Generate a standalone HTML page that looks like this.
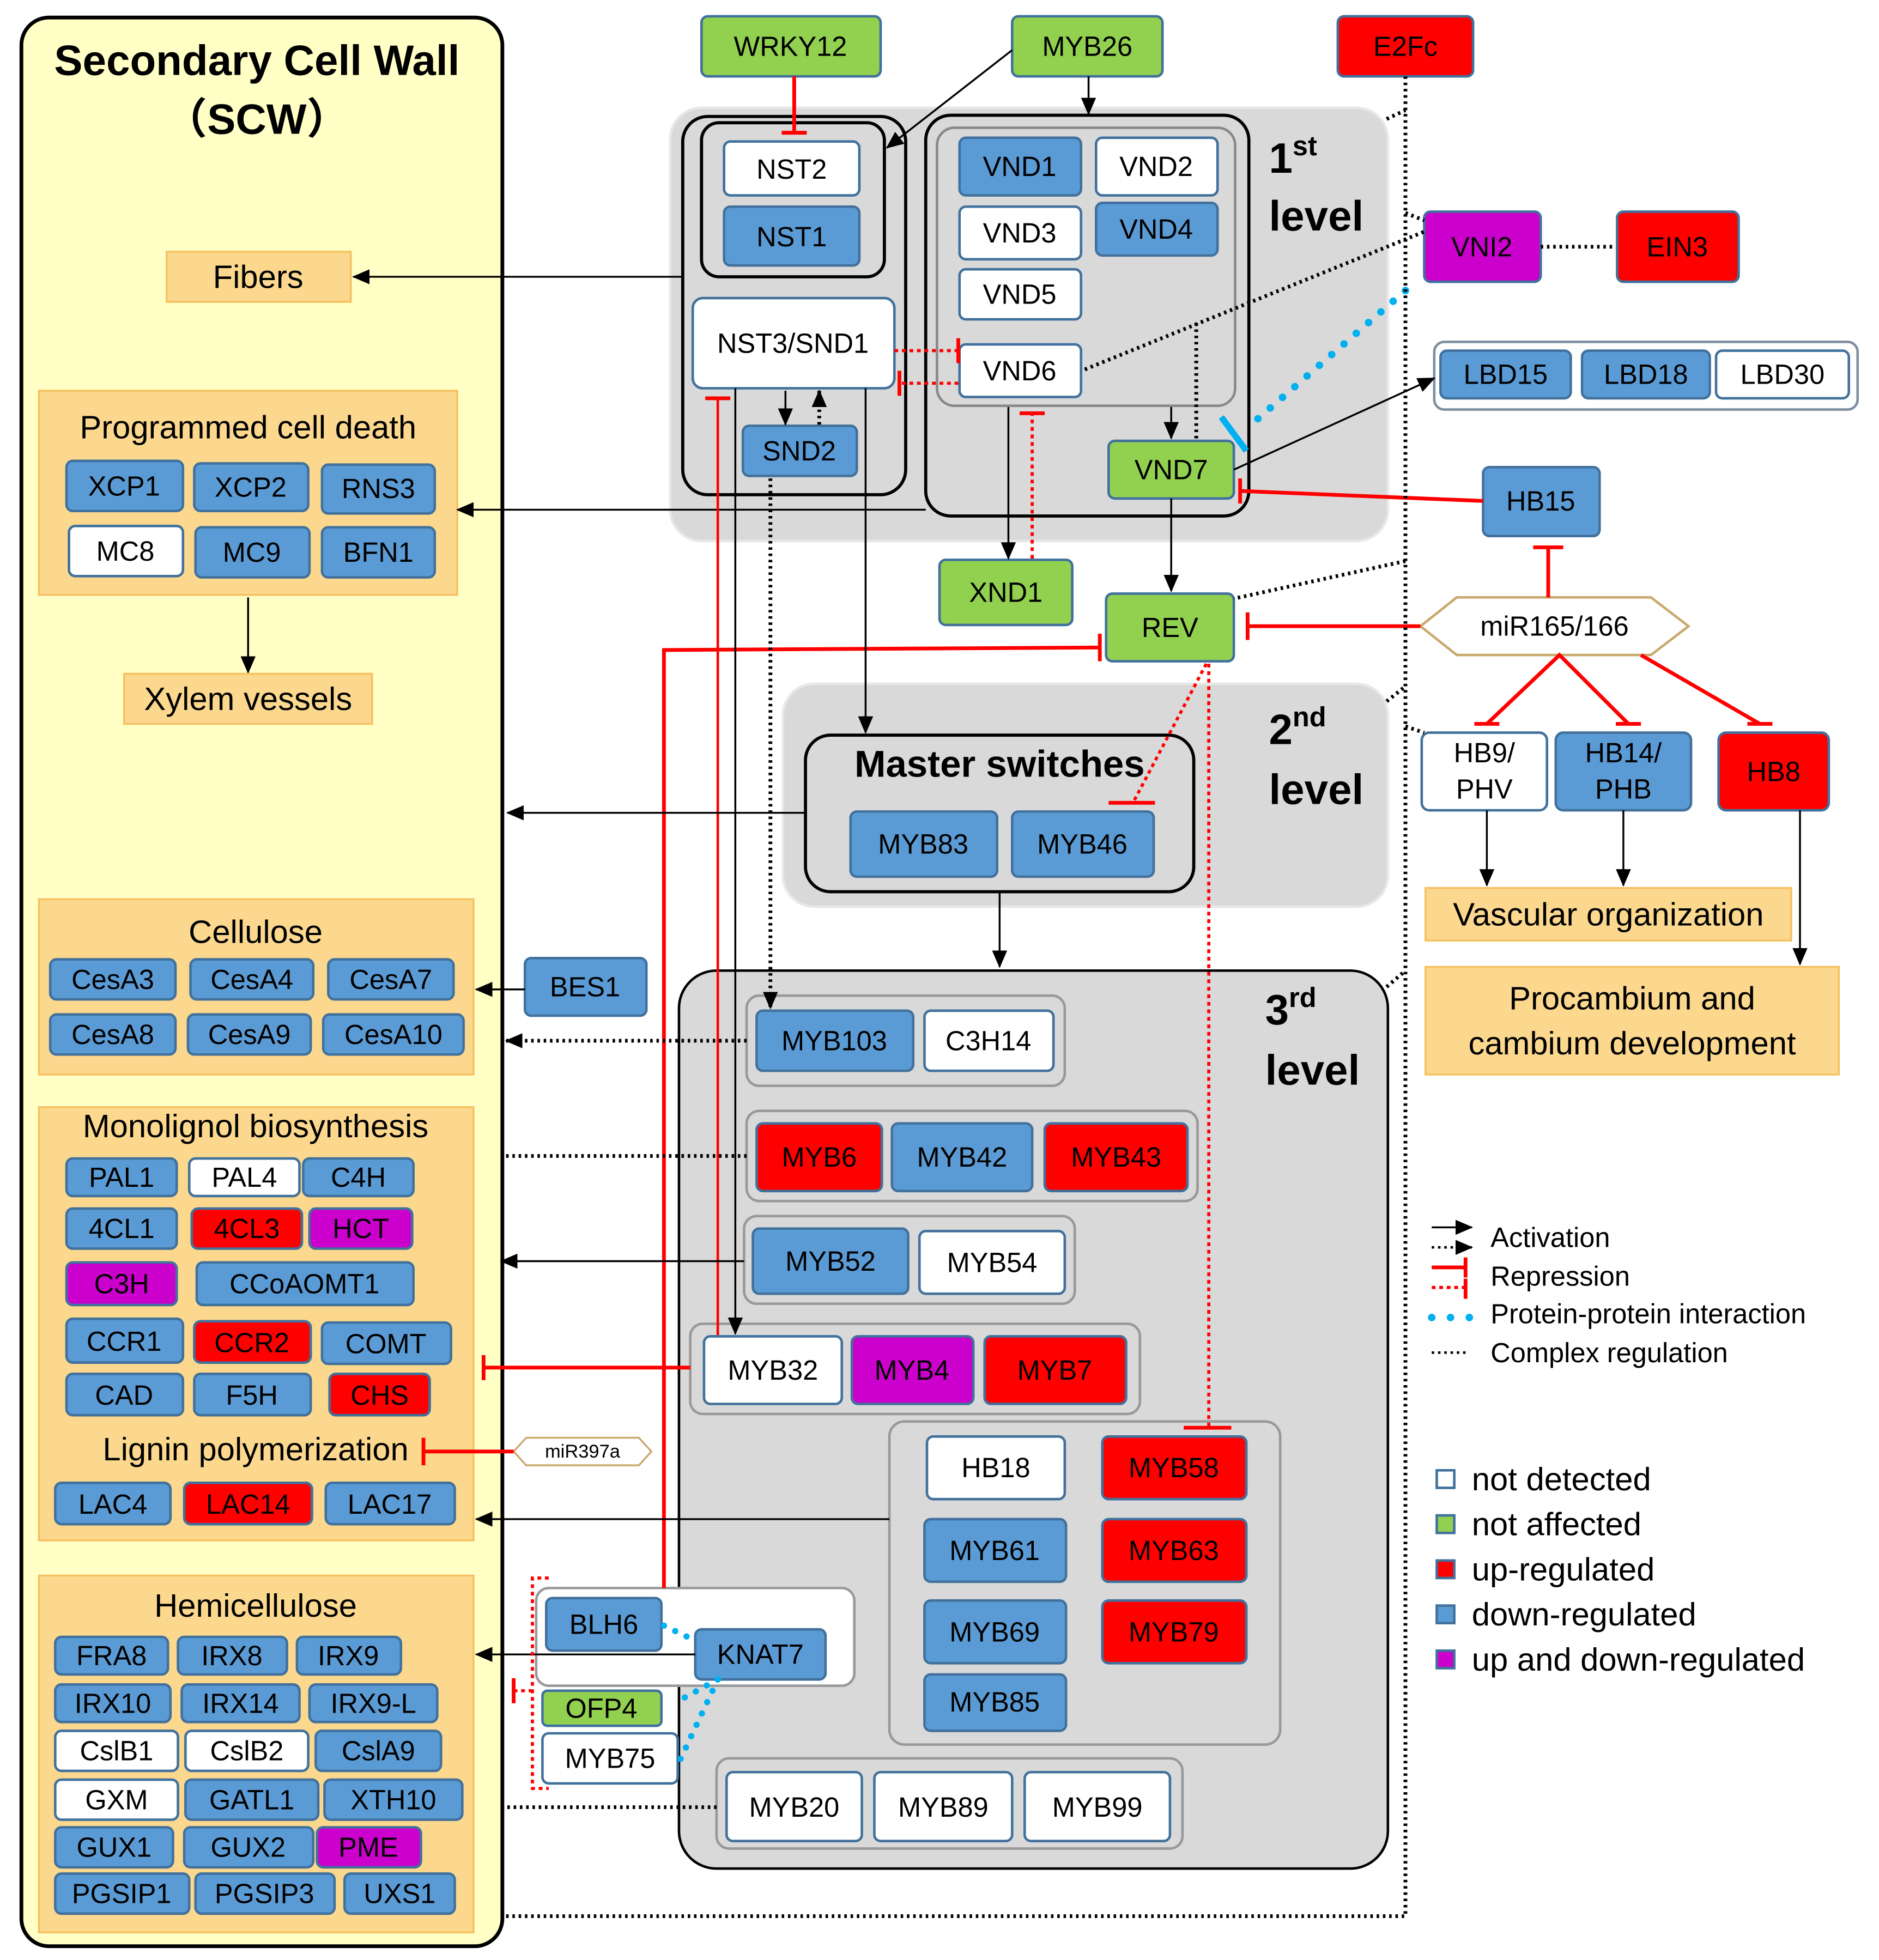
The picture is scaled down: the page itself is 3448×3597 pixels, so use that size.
<!DOCTYPE html>
<html><head><meta charset="utf-8"><style>
html,body{margin:0;padding:0;background:#fff}
svg{display:block}
text{font-family:"Liberation Sans","Noto Sans CJK SC",sans-serif}
.b{fill:#5B9BD5;stroke:#41719C;stroke-width:2}
.w{fill:#fff;stroke:#41719C;stroke-width:2}
.g{fill:#92D050;stroke:#41719C;stroke-width:2}
.r{fill:#FF0000;stroke:#41719C;stroke-width:2}
.p{fill:#CC00CC;stroke:#41719C;stroke-width:2}
.o{fill:#FBD88E;stroke:#F5C060;stroke-width:1.5}
.t{font-size:22px;text-anchor:middle;dominant-baseline:central;fill:#000}
.h{font-size:26px;text-anchor:middle;dominant-baseline:central;fill:#000}
.ln{stroke:#000;stroke-width:1.5;fill:none}
.dt{stroke:#000;stroke-width:3;stroke-dasharray:2 3;fill:none}
.rl{stroke:#FF0000;stroke-width:3;fill:none}
.rd{stroke:#FF0000;stroke-width:2.5;stroke-dasharray:3 3;fill:none}
.bd{stroke:#00B0F0;stroke-width:6;stroke-dasharray:0 13;stroke-linecap:round;fill:none}
.lv{font-size:34px;font-weight:bold;fill:#000}
</style></head><body>
<svg width="3448" height="3597" viewBox="0 0 1500 1565" xmlns="http://www.w3.org/2000/svg">
<defs>
<marker id="a" markerUnits="userSpaceOnUse" markerWidth="14" markerHeight="12" refX="13" refY="6" orient="auto"><path d="M0,0 L14,6 L0,12 z" fill="#000"/></marker>
</defs>
<!-- left panel -->
<rect x="17" y="14" width="384" height="1540" rx="22" fill="#FFFFC6" stroke="#000" stroke-width="3"/>
<text x="205" y="48" class="h" style="font-size:34px;font-weight:bold">Secondary Cell Wall</text>
<text x="205" y="95" class="h" style="font-size:34px;font-weight:bold">（SCW）</text>
<rect x="133" y="201" width="147" height="40" class="o"/><text x="206" y="221" class="h">Fibers</text>
<rect x="31" y="312" width="334" height="163" class="o"/><text x="198" y="341" class="h">Programmed  cell death</text>
<rect x="53" y="368" width="93" height="40" rx="5" class="b"/><text x="99" y="388" class="t">XCP1</text>
<rect x="155" y="370" width="91" height="38" rx="5" class="b"/><text x="200" y="389" class="t">XCP2</text>
<rect x="257" y="371" width="90" height="39" rx="5" class="b"/><text x="302" y="390" class="t">RNS3</text>
<rect x="55" y="420" width="91" height="40" rx="5" class="w"/><text x="100" y="440" class="t">MC8</text>
<rect x="156" y="421" width="91" height="40" rx="5" class="b"/><text x="201" y="441" class="t">MC9</text>
<rect x="257" y="421" width="90" height="40" rx="5" class="b"/><text x="302" y="441" class="t">BFN1</text>
<line x1="198" y1="477" x2="198" y2="537" class="ln" marker-end="url(#a)"/>
<rect x="99" y="538" width="198" height="40" class="o"/><text x="198" y="558" class="h">Xylem vessels</text>

<rect x="31" y="718" width="347" height="140" class="o"/><text x="204" y="744" class="h">Cellulose</text>
<rect x="40" y="766" width="100" height="32" rx="5" class="b"/><text x="90" y="782" class="t">CesA3</text>
<rect x="152" y="766" width="98" height="32" rx="5" class="b"/><text x="201" y="782" class="t">CesA4</text>
<rect x="262" y="766" width="100" height="32" rx="5" class="b"/><text x="312" y="782" class="t">CesA7</text>
<rect x="40" y="810" width="100" height="32" rx="5" class="b"/><text x="90" y="826" class="t">CesA8</text>
<rect x="150" y="810" width="98" height="32" rx="5" class="b"/><text x="199" y="826" class="t">CesA9</text>
<rect x="258" y="810" width="112" height="32" rx="5" class="b"/><text x="314" y="826" class="t">CesA10</text>

<rect x="31" y="884" width="347" height="346" class="o"/><text x="204" y="899" class="h">Monolignol biosynthesis</text>
<rect x="53" y="925" width="88" height="30" rx="5" class="b"/><text x="97" y="940" class="t">PAL1</text>
<rect x="151" y="925" width="88" height="30" rx="5" class="w"/><text x="195" y="940" class="t">PAL4</text>
<rect x="242" y="925" width="88" height="30" rx="5" class="b"/><text x="286" y="940" class="t">C4H</text>
<rect x="53" y="965" width="88" height="32" rx="5" class="b"/><text x="97" y="981" class="t">4CL1</text>
<rect x="153" y="965" width="88" height="32" rx="5" class="r"/><text x="197" y="981" class="t">4CL3</text>
<rect x="247" y="965" width="82" height="32" rx="5" class="p"/><text x="288" y="981" class="t">HCT</text>
<rect x="53" y="1008" width="88" height="34" rx="5" class="p"/><text x="97" y="1025" class="t">C3H</text>
<rect x="157" y="1008" width="173" height="34" rx="5" class="b"/><text x="243" y="1025" class="t">CCoAOMT1</text>
<rect x="53" y="1053" width="93" height="35" rx="5" class="b"/><text x="99" y="1071" class="t">CCR1</text>
<rect x="155" y="1055" width="93" height="33" rx="5" class="r"/><text x="201" y="1072" class="t">CCR2</text>
<rect x="257" y="1056" width="103" height="33" rx="5" class="b"/><text x="308" y="1073" class="t">COMT</text>
<rect x="53" y="1097" width="93" height="33" rx="5" class="b"/><text x="99" y="1114" class="t">CAD</text>
<rect x="155" y="1097" width="93" height="33" rx="5" class="b"/><text x="201" y="1114" class="t">F5H</text>
<rect x="263" y="1097" width="80" height="33" rx="5" class="r"/><text x="303" y="1114" class="t">CHS</text>
<text x="204" y="1157" class="h">Lignin polymerization</text>
<rect x="44" y="1184" width="92" height="33" rx="5" class="b"/><text x="90" y="1201" class="t">LAC4</text>
<rect x="147" y="1184" width="102" height="33" rx="5" class="r"/><text x="198" y="1201" class="t">LAC14</text>
<rect x="260" y="1184" width="103" height="33" rx="5" class="b"/><text x="311" y="1201" class="t">LAC17</text>

<rect x="31" y="1258" width="347" height="285" class="o"/><text x="204" y="1282" class="h">Hemicellulose</text>
<rect x="44" y="1307" width="90" height="30" rx="5" class="b"/><text x="89" y="1322" class="t">FRA8</text>
<rect x="142" y="1307" width="87" height="30" rx="5" class="b"/><text x="185" y="1322" class="t">IRX8</text>
<rect x="237" y="1307" width="83" height="30" rx="5" class="b"/><text x="278" y="1322" class="t">IRX9</text>
<rect x="44" y="1345" width="92" height="30" rx="5" class="b"/><text x="90" y="1360" class="t">IRX10</text>
<rect x="145" y="1345" width="94" height="30" rx="5" class="b"/><text x="192" y="1360" class="t">IRX14</text>
<rect x="247" y="1345" width="102" height="30" rx="5" class="b"/><text x="298" y="1360" class="t">IRX9-L</text>
<rect x="44" y="1382" width="98" height="32" rx="5" class="w"/><text x="93" y="1398" class="t">CslB1</text>
<rect x="148" y="1382" width="98" height="32" rx="5" class="w"/><text x="197" y="1398" class="t">CslB2</text>
<rect x="252" y="1382" width="100" height="32" rx="5" class="b"/><text x="302" y="1398" class="t">CslA9</text>
<rect x="44" y="1421" width="98" height="32" rx="5" class="w"/><text x="93" y="1437" class="t">GXM</text>
<rect x="148" y="1421" width="106" height="32" rx="5" class="b"/><text x="201" y="1437" class="t">GATL1</text>
<rect x="259" y="1421" width="110" height="32" rx="5" class="b"/><text x="314" y="1437" class="t">XTH10</text>
<rect x="44" y="1459" width="94" height="32" rx="5" class="b"/><text x="91" y="1475" class="t">GUX1</text>
<rect x="147" y="1459" width="103" height="32" rx="5" class="b"/><text x="198" y="1475" class="t">GUX2</text>
<rect x="253" y="1459" width="83" height="32" rx="5" class="p"/><text x="294" y="1475" class="t">PME</text>
<rect x="44" y="1496" width="107" height="32" rx="5" class="b"/><text x="97" y="1512" class="t">PGSIP1</text>
<rect x="156" y="1496" width="111" height="32" rx="5" class="b"/><text x="211" y="1512" class="t">PGSIP3</text>
<rect x="275" y="1496" width="88" height="32" rx="5" class="b"/><text x="319" y="1512" class="t">UXS1</text>

<!-- grey levels -->
<rect x="535" y="86" width="573" height="346" rx="25" fill="#D9D9D9" stroke="#E8E8E8" stroke-width="2"/>
<rect x="625" y="546" width="483" height="178" rx="25" fill="#D9D9D9" stroke="#E8E8E8" stroke-width="2"/>
<rect x="542" y="775" width="566" height="717" rx="30" fill="#D9D9D9" stroke="#000" stroke-width="2"/>
<text x="1013" y="138" class="lv">1<tspan font-size="22" dy="-14">st</tspan></text>
<text x="1013" y="184" class="lv">level</text>
<text x="1013" y="594" class="lv">2<tspan font-size="22" dy="-14">nd</tspan></text>
<text x="1013" y="642" class="lv">level</text>
<text x="1010" y="818" class="lv">3<tspan font-size="22" dy="-14">rd</tspan></text>
<text x="1010" y="866" class="lv">level</text>

<!-- top -->
<rect x="560" y="13" width="143" height="48" rx="5" class="g"/><text x="631" y="37" class="t">WRKY12</text>
<rect x="808" y="13" width="120" height="48" rx="5" class="g"/><text x="868" y="37" class="t">MYB26</text>
<rect x="1068" y="13" width="108" height="48" rx="5" class="r"/><text x="1122" y="37" class="t">E2Fc</text>

<rect x="545" y="93" width="178" height="302" rx="20" fill="none" stroke="#000" stroke-width="2.5"/>
<rect x="560" y="98" width="146" height="123" rx="14" fill="none" stroke="#000" stroke-width="2.5"/>
<rect x="578" y="113" width="108" height="43" rx="5" class="w"/><text x="632" y="135" class="t">NST2</text>
<rect x="578" y="165" width="108" height="47" rx="5" class="b"/><text x="632" y="189" class="t">NST1</text>
<rect x="553" y="238" width="161" height="72" rx="8" class="w"/><text x="633" y="274" class="t">NST3/SND1</text>
<rect x="593" y="340" width="91" height="40" rx="5" class="b"/><text x="638" y="360" class="t">SND2</text>

<rect x="739" y="92" width="258" height="320" rx="20" fill="none" stroke="#000" stroke-width="2.5"/>
<rect x="748" y="102" width="238" height="222" rx="14" fill="none" stroke="#888" stroke-width="2"/>
<rect x="766" y="110" width="97" height="46" rx="5" class="b"/><text x="814" y="133" class="t">VND1</text>
<rect x="875" y="110" width="97" height="46" rx="5" class="w"/><text x="923" y="133" class="t">VND2</text>
<rect x="766" y="165" width="97" height="42" rx="5" class="w"/><text x="814" y="186" class="t">VND3</text>
<rect x="875" y="162" width="97" height="42" rx="5" class="b"/><text x="923" y="183" class="t">VND4</text>
<rect x="766" y="215" width="97" height="40" rx="5" class="w"/><text x="814" y="235" class="t">VND5</text>
<rect x="766" y="275" width="97" height="42" rx="5" class="w"/><text x="814" y="296" class="t">VND6</text>
<rect x="885" y="352" width="100" height="46" rx="5" class="g"/><text x="935" y="375" class="t">VND7</text>

<rect x="750" y="447" width="106" height="52" rx="5" class="g"/><text x="803" y="473" class="t">XND1</text>
<rect x="883" y="474" width="102" height="54" rx="5" class="g"/><text x="934" y="501" class="t">REV</text>
<rect x="1137" y="169" width="93" height="56" rx="5" class="p"/><text x="1183" y="197" class="t">VNI2</text>
<rect x="1291" y="169" width="97" height="56" rx="5" class="r"/><text x="1339" y="197" class="t">EIN3</text>
<rect x="1145" y="273" width="338" height="54" rx="8" fill="#fff" stroke="#7F8FA0" stroke-width="2"/>
<rect x="1150" y="280" width="104" height="38" rx="5" class="b"/><text x="1202" y="299" class="t">LBD15</text>
<rect x="1263" y="280" width="102" height="38" rx="5" class="b"/><text x="1314" y="299" class="t">LBD18</text>
<rect x="1370" y="280" width="106" height="38" rx="5" class="w"/><text x="1423" y="299" class="t">LBD30</text>
<rect x="1184" y="373" width="93" height="55" rx="5" class="b"/><text x="1230" y="400" class="t">HB15</text>
<polygon points="1134,500 1163,477 1318,477 1348,500 1318,523 1163,523" fill="#fff" stroke="#C9A96E" stroke-width="2"/>
<text x="1241" y="500" class="t">miR165/166</text>
<rect x="1135" y="585" width="100" height="62" rx="6" class="w"/><text x="1185" y="601" class="t">HB9/</text><text x="1185" y="630" class="t">PHV</text>
<rect x="1242" y="585" width="108" height="62" rx="6" class="b"/><text x="1296" y="601" class="t">HB14/</text><text x="1296" y="630" class="t">PHB</text>
<rect x="1372" y="585" width="88" height="62" rx="6" class="r"/><text x="1416" y="616" class="t">HB8</text>
<rect x="1138" y="709" width="292" height="42" class="o"/><text x="1284" y="730" class="h">Vascular organization</text>
<rect x="1138" y="772" width="330" height="86" class="o"/><text x="1303" y="797" class="h">Procambium and</text><text x="1303" y="833" class="h">cambium development</text>

<!-- 2nd -->
<rect x="643" y="587" width="310" height="125" rx="20" fill="none" stroke="#000" stroke-width="2.5"/>
<text x="798" y="610" class="h" style="font-size:30px;font-weight:bold">Master switches</text>
<rect x="679" y="648" width="117" height="52" rx="5" class="b"/><text x="737" y="674" class="t">MYB83</text>
<rect x="808" y="648" width="113" height="52" rx="5" class="b"/><text x="864" y="674" class="t">MYB46</text>

<!-- 3rd -->
<rect x="596" y="795" width="254" height="72" rx="10" fill="none" stroke="#999" stroke-width="2"/>
<rect x="604" y="807" width="125" height="48" rx="5" class="b"/><text x="666" y="831" class="t">MYB103</text>
<rect x="738" y="807" width="103" height="48" rx="5" class="w"/><text x="789" y="831" class="t">C3H14</text>
<rect x="596" y="887" width="360" height="72" rx="10" fill="none" stroke="#999" stroke-width="2"/>
<rect x="604" y="897" width="100" height="54" rx="5" class="r"/><text x="654" y="924" class="t">MYB6</text>
<rect x="712" y="897" width="112" height="54" rx="5" class="b"/><text x="768" y="924" class="t">MYB42</text>
<rect x="834" y="897" width="114" height="54" rx="5" class="r"/><text x="891" y="924" class="t">MYB43</text>
<rect x="594" y="971" width="264" height="70" rx="10" fill="none" stroke="#999" stroke-width="2"/>
<rect x="601" y="981" width="124" height="52" rx="5" class="b"/><text x="663" y="1007" class="t">MYB52</text>
<rect x="734" y="983" width="116" height="50" rx="5" class="w"/><text x="792" y="1008" class="t">MYB54</text>
<rect x="551" y="1057" width="359" height="72" rx="10" fill="none" stroke="#999" stroke-width="2"/>
<rect x="562" y="1067" width="110" height="54" rx="5" class="w"/><text x="617" y="1094" class="t">MYB32</text>
<rect x="680" y="1067" width="97" height="54" rx="5" class="p"/><text x="728" y="1094" class="t">MYB4</text>
<rect x="786" y="1067" width="113" height="54" rx="5" class="r"/><text x="842" y="1094" class="t">MYB7</text>
<rect x="710" y="1135" width="312" height="258" rx="12" fill="none" stroke="#999" stroke-width="2"/>
<rect x="740" y="1147" width="110" height="50" rx="5" class="w"/><text x="795" y="1172" class="t">HB18</text>
<rect x="880" y="1147" width="115" height="50" rx="5" class="r"/><text x="937" y="1172" class="t">MYB58</text>
<rect x="738" y="1213" width="113" height="50" rx="5" class="b"/><text x="794" y="1238" class="t">MYB61</text>
<rect x="880" y="1213" width="115" height="50" rx="5" class="r"/><text x="937" y="1238" class="t">MYB63</text>
<rect x="738" y="1278" width="113" height="50" rx="5" class="b"/><text x="794" y="1303" class="t">MYB69</text>
<rect x="880" y="1278" width="115" height="50" rx="5" class="r"/><text x="937" y="1303" class="t">MYB79</text>
<rect x="738" y="1337" width="113" height="45" rx="5" class="b"/><text x="794" y="1359" class="t">MYB85</text>
<rect x="572" y="1404" width="372" height="72" rx="10" fill="none" stroke="#999" stroke-width="2"/>
<rect x="580" y="1415" width="108" height="55" rx="5" class="w"/><text x="634" y="1443" class="t">MYB20</text>
<rect x="698" y="1415" width="110" height="55" rx="5" class="w"/><text x="753" y="1443" class="t">MYB89</text>
<rect x="818" y="1415" width="116" height="55" rx="5" class="w"/><text x="876" y="1443" class="t">MYB99</text>

<rect x="428" y="1268" width="254" height="78" rx="10" fill="#fff" stroke="#999" stroke-width="2"/>
<rect x="436" y="1276" width="92" height="42" rx="5" class="b"/><text x="482" y="1297" class="t">BLH6</text>
<rect x="555" y="1301" width="104" height="40" rx="5" class="b"/><text x="607" y="1321" class="t">KNAT7</text>
<rect x="433" y="1350" width="95" height="28" rx="4" class="g"/><text x="480" y="1364" class="t">OFP4</text>
<rect x="433" y="1384" width="108" height="40" rx="5" class="w"/><text x="487" y="1404" class="t">MYB75</text>
<rect x="419" y="765" width="97" height="46" rx="5" class="b"/><text x="467" y="788" class="t">BES1</text>
<polygon points="410,1159 420,1148 510,1148 520,1159 510,1170 420,1170" fill="#fff" stroke="#C9A96E" stroke-width="1.5"/>
<text x="465" y="1159" class="t" style="font-size:15px">miR397a</text>

<!-- connectors -->
<line x1="634" y1="61" x2="634" y2="106" class="rl"/><line x1="624" y1="106" x2="644" y2="106" class="rl"/>
<line x1="869" y1="61" x2="869" y2="91" class="ln" marker-end="url(#a)"/>
<line x1="808" y1="40" x2="708" y2="118" class="ln" marker-end="url(#a)"/>
<line x1="545" y1="221" x2="282" y2="221" class="ln" marker-end="url(#a)"/>
<line x1="739" y1="407" x2="365" y2="407" class="ln" marker-end="url(#a)"/>
<line x1="627" y1="312" x2="627" y2="339" class="ln" marker-end="url(#a)"/>
<line x1="654" y1="339" x2="654" y2="312" class="dt" marker-end="url(#a)"/>
<line x1="714" y1="280" x2="765" y2="280" class="rd"/><line x1="765" y1="270" x2="765" y2="290" class="rl"/>
<line x1="765" y1="306" x2="718" y2="306" class="rd"/><line x1="718" y1="296" x2="718" y2="316" class="rl"/>
<line x1="866" y1="295" x2="1137" y2="185" class="dt"/>
<line x1="955" y1="258" x2="955" y2="350" class="dt"/>
<line x1="935" y1="325" x2="935" y2="350" class="ln" marker-end="url(#a)"/>
<line x1="985" y1="375" x2="1145" y2="302" class="ln" marker-end="url(#a)"/>
<line x1="1230" y1="197" x2="1290" y2="197" class="dt"/>
<line x1="1122" y1="232" x2="1000" y2="338" class="bd"/>
<line x1="975" y1="333" x2="995" y2="360" stroke="#00B0F0" stroke-width="5"/>
<line x1="1184" y1="400" x2="990" y2="392" class="rl"/><line x1="990" y1="382" x2="990" y2="402" class="rl"/>
<line x1="935" y1="398" x2="935" y2="472" class="ln" marker-end="url(#a)"/>
<line x1="805" y1="325" x2="805" y2="446" class="ln" marker-end="url(#a)"/>
<line x1="824" y1="446" x2="824" y2="330" class="rd"/><line x1="814" y1="330" x2="834" y2="330" class="rl"/>
<line x1="1236" y1="477" x2="1236" y2="437" class="rl"/><line x1="1224" y1="437" x2="1248" y2="437" class="rl"/>
<line x1="1134" y1="500" x2="996" y2="500" class="rl"/><line x1="996" y1="489" x2="996" y2="511" class="rl"/>
<polyline points="1187,578 1245,523 1300,578" class="rl"/>
<line x1="1310" y1="523" x2="1405" y2="578" class="rl"/>
<line x1="1177" y1="578" x2="1197" y2="578" class="rl"/><line x1="1290" y1="578" x2="1310" y2="578" class="rl"/><line x1="1395" y1="578" x2="1415" y2="578" class="rl"/>
<line x1="1187" y1="647" x2="1187" y2="707" class="ln" marker-end="url(#a)"/>
<line x1="1296" y1="647" x2="1296" y2="707" class="ln" marker-end="url(#a)"/>
<line x1="1437" y1="647" x2="1437" y2="770" class="ln" marker-end="url(#a)"/>
<polyline points="530,1268 530,519 878,517" class="rl"/><line x1="878" y1="506" x2="878" y2="528" class="rl"/>
<line x1="963" y1="530" x2="905" y2="640" class="rd"/><line x1="885" y1="641" x2="922" y2="641" class="rl"/>
<line x1="965" y1="530" x2="965" y2="1140" class="rd"/><line x1="945" y1="1140" x2="983" y2="1140" class="rl"/>
<polyline points="1122,61 1122,1530 401,1530" class="dt"/>
<line x1="1107" y1="95" x2="1122" y2="88" class="dt"/>
<line x1="1122" y1="170" x2="1137" y2="176" class="dt"/>
<line x1="1122" y1="448" x2="985" y2="478" class="dt"/>
<line x1="1107" y1="560" x2="1122" y2="548" class="dt"/>
<line x1="1122" y1="580" x2="1137" y2="585" class="dt"/>
<line x1="1107" y1="788" x2="1122" y2="775" class="dt"/>
<line x1="691" y1="310" x2="691" y2="585" class="ln" marker-end="url(#a)"/>
<line x1="615" y1="382" x2="615" y2="805" class="dt" marker-end="url(#a)"/>
<line x1="573" y1="318" x2="573" y2="1066" class="rl" style="stroke-width:2"/><line x1="563" y1="318" x2="583" y2="318" class="rl"/>
<line x1="587" y1="310" x2="587" y2="1065" class="ln" marker-end="url(#a)"/>
<line x1="643" y1="649" x2="405" y2="649" class="ln" marker-end="url(#a)"/>
<line x1="798" y1="712" x2="798" y2="772" class="ln" marker-end="url(#a)"/>
<line x1="419" y1="790" x2="380" y2="790" class="ln" marker-end="url(#a)"/>
<line x1="596" y1="831" x2="404" y2="831" class="dt" marker-end="url(#a)"/>
<line x1="596" y1="923" x2="403" y2="923" class="dt"/>
<line x1="594" y1="1007" x2="400" y2="1007" class="ln" marker-end="url(#a)"/>
<line x1="551" y1="1092" x2="386" y2="1092" class="rl"/><line x1="386" y1="1082" x2="386" y2="1102" class="rl"/>
<line x1="410" y1="1159" x2="338" y2="1159" class="rl"/><line x1="338" y1="1148" x2="338" y2="1170" class="rl"/>
<line x1="710" y1="1213" x2="380" y2="1213" class="ln" marker-end="url(#a)"/>
<line x1="555" y1="1321" x2="380" y2="1321" class="ln" marker-end="url(#a)"/>
<polyline points="438,1260 425,1260 425,1428 438,1428" class="rd"/>
<line x1="425" y1="1350" x2="410" y2="1350" class="rd"/><line x1="410" y1="1340" x2="410" y2="1360" class="rl"/>
<line x1="530" y1="1298" x2="555" y2="1310" class="bd" style="stroke-width:5;stroke-dasharray:0 10"/>
<line x1="573" y1="1341" x2="538" y2="1360" class="bd" style="stroke-width:5;stroke-dasharray:0 10"/>
<line x1="573" y1="1341" x2="543" y2="1405" class="bd" style="stroke-width:5;stroke-dasharray:0 10"/>
<line x1="572" y1="1443" x2="403" y2="1443" class="dt"/>

<!-- legend -->
<line x1="1143" y1="980" x2="1175" y2="980" class="ln" marker-end="url(#a)"/>
<line x1="1143" y1="996" x2="1175" y2="996" class="dt" style="stroke-width:2" marker-end="url(#a)"/>
<text x="1190" y="988" style="font-size:22px" dominant-baseline="central">Activation</text>
<line x1="1143" y1="1012" x2="1170" y2="1012" class="rl"/><line x1="1170" y1="1004" x2="1170" y2="1020" class="rl"/>
<line x1="1143" y1="1028" x2="1170" y2="1028" class="rd"/><line x1="1170" y1="1021" x2="1170" y2="1037" class="rl"/>
<text x="1190" y="1019" style="font-size:22px" dominant-baseline="central">Repression</text>
<line x1="1143" y1="1052" x2="1180" y2="1052" class="bd" style="stroke-width:6;stroke-dasharray:0 15"/>
<text x="1190" y="1049" style="font-size:22px" dominant-baseline="central">Protein-protein interaction</text>
<line x1="1143" y1="1080" x2="1173" y2="1080" class="dt" style="stroke-width:2"/>
<text x="1190" y="1080" style="font-size:22px" dominant-baseline="central">Complex regulation</text>
<rect x="1147" y="1174" width="14" height="14" fill="#fff" stroke="#41719C" stroke-width="2"/><text x="1175" y="1181" style="font-size:26px" dominant-baseline="central">not detected</text>
<rect x="1147" y="1210" width="14" height="14" fill="#92D050" stroke="#41719C" stroke-width="2"/><text x="1175" y="1217" style="font-size:26px" dominant-baseline="central">not affected</text>
<rect x="1147" y="1246" width="14" height="14" fill="#FF0000" stroke="#41719C" stroke-width="2"/><text x="1175" y="1253" style="font-size:26px" dominant-baseline="central">up-regulated</text>
<rect x="1147" y="1282" width="14" height="14" fill="#5B9BD5" stroke="#41719C" stroke-width="2"/><text x="1175" y="1289" style="font-size:26px" dominant-baseline="central">down-regulated</text>
<rect x="1147" y="1318" width="14" height="14" fill="#CC00CC" stroke="#41719C" stroke-width="2"/><text x="1175" y="1325" style="font-size:26px" dominant-baseline="central">up and down-regulated</text>
</svg>
</body></html>
